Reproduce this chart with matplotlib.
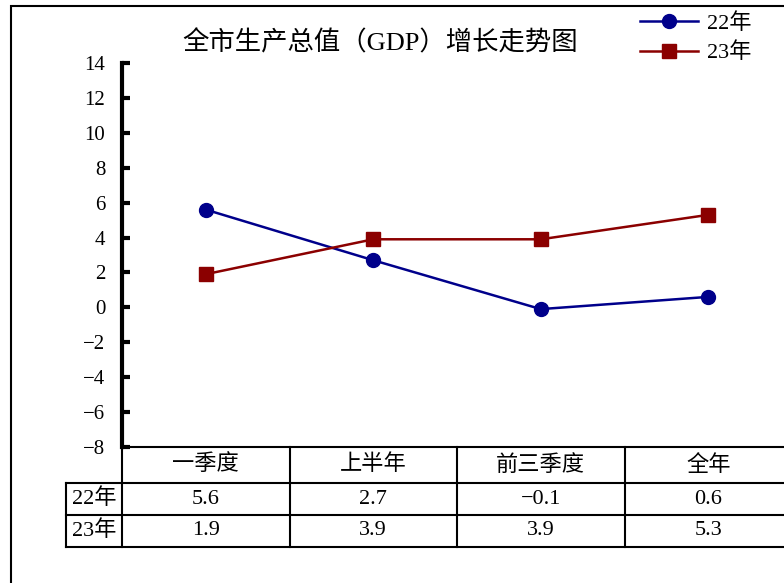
import matplotlib
matplotlib.use('Agg')
import matplotlib.pyplot as plt
import matplotlib.transforms as mtransforms
from matplotlib.patches import Rectangle

plt.rcParams['font.family'] = ['Liberation Serif', 'Noto Sans CJK SC', 'DejaVu Sans']
plt.rcParams['axes.unicode_minus'] = True

categories = ['一季度', '上半年', '前三季度', '全年']
series_names = ['22年', '23年']
gdp_22 = [5.6, 2.7, -0.1, 0.6]
gdp_23 = [1.9, 3.9, 3.9, 5.3]
yticks = list(range(-8, 15, 2))

fig = plt.figure(figsize=(7.84, 5.83), dpi=100)
ax = fig.add_axes([122/784, 1-447/583, 670/784, 384/583])

x = list(range(len(categories)))
ax.plot(x, gdp_22, color='#00008B', lw=1.8, marker='o', ms=10, label=series_names[0])
ax.plot(x, gdp_23, color='#8B0000', lw=1.8, marker='s', ms=10, label=series_names[1])

ax.set_xlim(-0.5, 3.5)
ax.set_ylim(-8, 14)
ax.set_yticks(yticks)
ax.set_yticklabels([str(v).replace('-', '\u2212') for v in yticks], fontsize=15)
ax.tick_params(axis='y', direction='in', length=6, width=3, pad=12)
ax.set_xticks([])
for s in ['top', 'right']:
    ax.spines[s].set_visible(False)
ax.spines['left'].set_linewidth(3)
ax.spines['bottom'].set_linewidth(1.5)

# data table under the axis
trans = mtransforms.blended_transform_factory(ax.transData, ax.transAxes)
lab_left = -0.834
row_edges = [0, -0.094, -0.177, -0.260]
lw = 1.5
for xv in [-0.5, 0.5, 1.5, 2.5, 3.5]:
    ax.plot([xv, xv], [0, row_edges[-1]], color='black', lw=lw, transform=trans, clip_on=False)
ax.plot([lab_left, lab_left], [row_edges[1], row_edges[-1]], color='black', lw=lw, transform=trans, clip_on=False)
for yv in row_edges[1:]:
    ax.plot([lab_left, 3.5], [yv, yv], color='black', lw=lw, transform=trans, clip_on=False)

for i, c in enumerate(categories):
    ax.text(i, (row_edges[0] + row_edges[1]) / 2, c, transform=trans, ha='center', va='center', fontsize=16)
for r, (name, vals) in enumerate(zip(series_names, [gdp_22, gdp_23])):
    ym = (row_edges[r+1] + row_edges[r+2]) / 2
    ax.text((lab_left - 0.5) / 2, ym, name, transform=trans, ha='center', va='center', fontsize=16)
    for i, v in enumerate(vals):
        ax.text(i, ym, f'{v:.1f}'.replace('-', '\u2212'), transform=trans, ha='center', va='center', fontsize=16)

fig.text(380/784, 1-43/583, '全市生产总值（GDP）增长走势图', ha='center', va='center', fontsize=19)

fig.legend(loc='upper left', bbox_to_anchor=(640/784, 1-13/583), frameon=False, fontsize=16,
           handlelength=2.6, handletextpad=0.4, labelspacing=0.4, borderpad=0, borderaxespad=0)

fig.add_artist(Rectangle((11/784, -0.5), 2, 1-6/583+0.5, transform=fig.transFigure,
                         fill=False, lw=1.5, color='black'))

fig.savefig('out.png', dpi=100)
